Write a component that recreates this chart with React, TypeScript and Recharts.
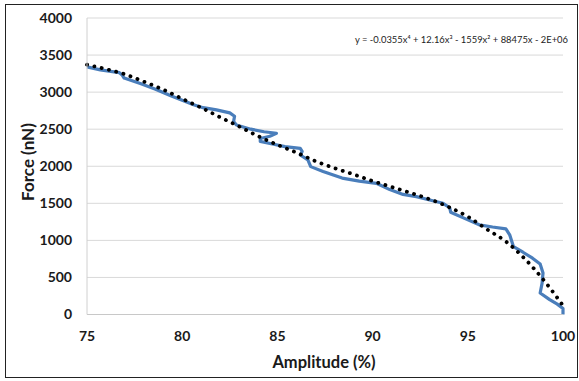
import { LineChart, Line, XAxis, YAxis, CartesianGrid } from 'recharts'

/* ─── Data ─── */

const xTicks = [75, 80, 85, 90, 95, 100]
const yTicks = [0, 500, 1000, 1500, 2000, 2500, 3000, 3500, 4000]

// measured curve, in drawing order (it doubles back near 85 and 99)
const blueAmp = [
  75.0, 75.7, 76.7, 76.85, 76.95, 77.8, 78.6, 79.4, 80.0, 80.6, 81.1, 81.8, 82.5, 82.75, 82.7,
  82.85, 83.6, 84.3, 84.95, 84.6, 84.1, 84.1, 84.8, 85.4, 86.2, 86.3, 86.2, 86.6, 86.75, 87.4,
  88.4, 89.3, 90.2, 90.9, 91.6, 92.3, 93.0, 93.7, 94.05, 94.1, 94.8, 95.6, 96.3, 97.0, 97.2,
  97.4, 97.9, 98.4, 98.8, 98.95, 98.9, 98.8, 99.3, 99.7, 100.0, 100.0,
]
const blueForce = [
  3340, 3300, 3262, 3230, 3190, 3115, 3040, 2950, 2890, 2830, 2790, 2760, 2720, 2675, 2605,
  2557, 2500, 2465, 2445, 2405, 2375, 2335, 2297, 2265, 2240, 2200, 2152, 2085, 1995, 1930,
  1840, 1800, 1770, 1685, 1620, 1590, 1545, 1500, 1440, 1380, 1300, 1210, 1180, 1155, 1075,
  915, 840, 760, 680, 560, 420, 290, 200, 140, 80, 0,
]

// polynomial trendline, read at whole-number amplitudes
const trendAmp = [
  75, 76, 77, 78, 79, 80, 81, 82, 83, 84, 85, 86, 87, 88, 89, 90, 91, 92, 93, 94, 95, 96, 97,
  98, 99, 100,
]
const trendForce = [
  3370, 3310, 3240, 3140, 3035, 2910, 2790, 2660, 2535, 2405, 2290, 2185, 2070, 1975, 1890,
  1800, 1720, 1640, 1555, 1450, 1320, 1150, 985, 750, 460, 120,
]

const equation = 'y = -0.0355x⁴ + 12.16x³ - 1559x² + 88475x - 2E+06'

const blueData = blueAmp.map((a, i) => ({ a, f: blueForce[i] }))
const trendData = trendAmp.map((a, i) => ({ a, f: trendForce[i] }))

/* ─── Styles ─── */

const FONT = 'Lato, "Open Sans", sans-serif'
const tickStyle = { fill: '#1a1a1a', fontSize: 14, fontWeight: 700, fontFamily: FONT }

export default function App() {
  return (
    <div style={{ position: 'absolute', left: 0, top: 0, width: 579, height: 381, background: '#fff' }}>
      <LineChart
        width={579}
        height={381}
        margin={{ top: 18, right: 16, left: 0, bottom: 0 }}
      >
        <CartesianGrid vertical={false} stroke="#d9d9d9" strokeWidth={1} />
        <XAxis
          type="number"
          dataKey="a"
          domain={[75, 100]}
          ticks={xTicks}
          height={66.5}
          tickLine={false}
          tickMargin={11}
          axisLine={{ stroke: '#c8c8c8' }}
          tick={tickStyle}
          label={{
            content: () => (
              <text
                x={324}
                y={368}
                textAnchor="middle"
                fill="#1a1a1a"
                fontSize={16.5}
                fontWeight={700}
                fontFamily={FONT}
              >
                Amplitude (%)
              </text>
            ),
          }}
        />
        <YAxis
          type="number"
          domain={[0, 4000]}
          ticks={yTicks}
          width={87}
          tickLine={false}
          tickMargin={9}
          axisLine={{ stroke: '#d0d0d0' }}
          tick={tickStyle}
          label={{
            content: () => (
              <text
                x={28}
                y={162}
                dy="0.35em"
                transform="rotate(-90 28 162)"
                textAnchor="middle"
                fill="#1a1a1a"
                fontSize={17}
                fontWeight={700}
                fontFamily={FONT}
              >
                Force (nN)
              </text>
            ),
          }}
        />
        <Line
          data={blueData}
          dataKey="f"
          type="linear"
          stroke="#4a7ebb"
          strokeWidth={3.2}
          strokeLinejoin="round"
          dot={false}
          activeDot={false}
          isAnimationActive={false}
        />
        <Line
          data={trendData}
          dataKey="f"
          type="monotone"
          stroke="#000"
          strokeWidth={3.8}
          strokeDasharray="0.1 7.4"
          strokeLinecap="round"
          dot={false}
          activeDot={false}
          isAnimationActive={false}
        />
        <text
          x={355}
          y={43}
          fontSize={9}
          fontFamily={FONT}
          fill="#222"
          textLength={213}
          lengthAdjust="spacingAndGlyphs"
        >
          {equation}
        </text>
      </LineChart>
      {/* chart frame */}
      <div
        style={{
          position: 'absolute',
          left: 5,
          top: 4,
          width: 573,
          height: 374,
          border: '1.5px solid #222',
          boxSizing: 'border-box',
          pointerEvents: 'none',
        }}
      />
    </div>
  )
}
